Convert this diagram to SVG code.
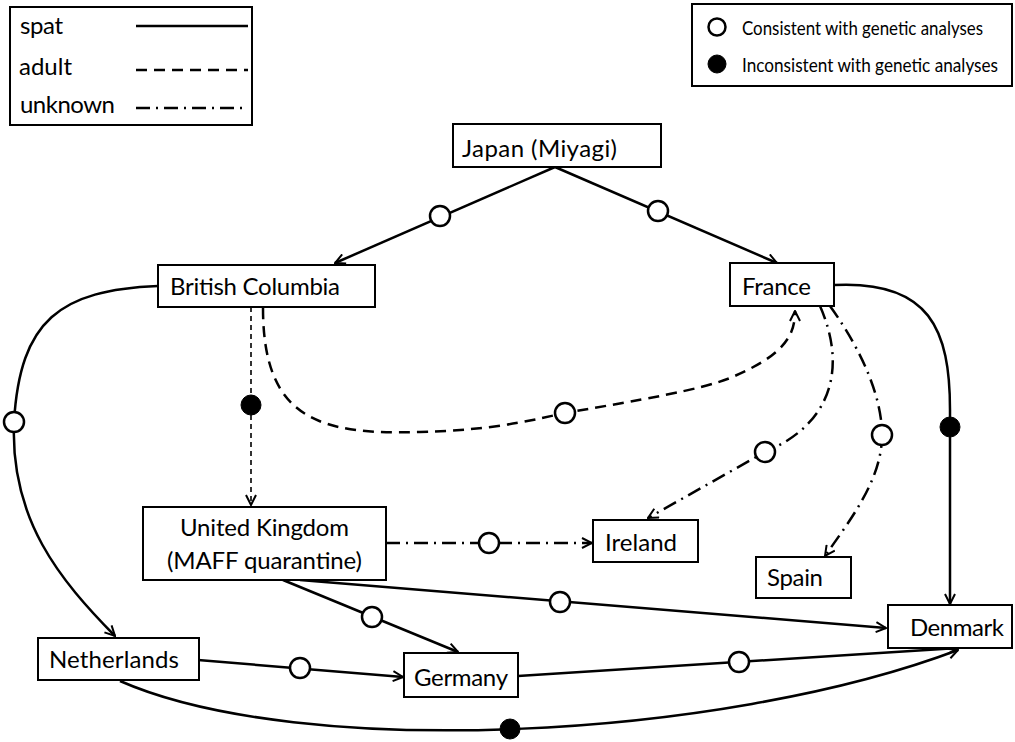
<svg xmlns="http://www.w3.org/2000/svg" width="1015" height="742" viewBox="0 0 1015 742">
  <style>
    text { font-family: Lato, "Open Sans", "Liberation Sans", sans-serif; font-size: 24px; fill: #000; }
    .small { font-size: 20px; }
    .box { fill: #fff; stroke: #000; stroke-width: 2; }
    .edge { fill: none; stroke: #000; stroke-width: 2.5; }
    .adult { stroke-dasharray: 11 7; }
    .unknown { stroke-dasharray: 14 6 2 6; }
    .dotted { stroke-width: 1.6; stroke-dasharray: 5 4; }
    .ok { fill: #fff; stroke: #000; stroke-width: 2.5; }
    .bad { fill: #000; stroke: #000; stroke-width: 1; }
  </style>
  <defs>
    <marker id="arrow" viewBox="0 0 12 12" refX="11" refY="6" markerWidth="12" markerHeight="12" markerUnits="userSpaceOnUse" orient="auto">
      <path d="M1,1 L11,6 L1,11" fill="none" stroke="#000" stroke-width="2"/>
    </marker>
  </defs>
  <rect width="1015" height="742" fill="#fff"/>

  <!-- legend: transport type -->
  <g id="legend-type">
    <rect class="box" x="10" y="7" width="242" height="118"/>
    <text x="20" y="34" textLength="43">spat</text>
    <text x="19" y="75" textLength="53">adult</text>
    <text x="20" y="113" textLength="95">unknown</text>
    <line class="edge" x1="136" y1="26" x2="248" y2="26"/>
    <line class="edge adult" x1="136" y1="70" x2="248" y2="70"/>
    <line class="edge unknown" x1="136" y1="108" x2="248" y2="108"/>
  </g>

  <!-- legend: genetic consistency -->
  <g id="legend-genetic">
    <rect class="box" x="692" y="4" width="320" height="82"/>
    <circle class="ok" cx="717" cy="27" r="8.5"/>
    <text class="small" x="742" y="35" textLength="241" lengthAdjust="spacingAndGlyphs">Consistent with genetic analyses</text>
    <circle class="bad" cx="717" cy="64" r="9"/>
    <text class="small" x="742" y="72" textLength="256" lengthAdjust="spacingAndGlyphs">Inconsistent with genetic analyses</text>
  </g>

  <!-- connectors -->
  <g id="connectors">
    <path class="edge" d="M555,167 L335,263" marker-end="url(#arrow)"/>
    <path class="edge" d="M555,167 L777,263" marker-end="url(#arrow)"/>
    <path class="edge" d="M158,286 C60,290 20,320 14,422 C10,520 60,580 115,636" marker-end="url(#arrow)"/>
    <path class="edge dotted" d="M251,307 L251,505" marker-end="url(#arrow)"/>
    <path class="edge adult" d="M263,308 C263,420 320,435 420,432 C500,430 540,418 565,413 C640,400 700,390 730,378 C785,355 795,335 795,311" marker-end="url(#arrow)"/>
    <path class="edge unknown" d="M820,306 C848,370 830,425 765,452 L648,518" marker-end="url(#arrow)"/>
    <path class="edge unknown" d="M830,306 C865,355 882,400 882,435 C882,480 850,520 825,556" marker-end="url(#arrow)"/>
    <path class="edge" d="M834,285 C930,280 950,330 950,410 L950,604" marker-end="url(#arrow)"/>
    <path class="edge unknown" d="M386,543 L592,543" marker-end="url(#arrow)"/>
    <path class="edge" d="M283,580 L458,652" marker-end="url(#arrow)"/>
    <path class="edge" d="M300,580 L886,628" marker-end="url(#arrow)"/>
    <path class="edge" d="M198,660 L403,677" marker-end="url(#arrow)"/>
    <path class="edge" d="M518,676 L958,648" marker-end="url(#arrow)"/>
    <path class="edge" d="M120,681 C300,760 720,740 958,650" marker-end="url(#arrow)"/>

    <circle class="ok" cx="440" cy="216" r="10"/>
    <circle class="ok" cx="658" cy="211" r="10"/>
    <circle class="ok" cx="14" cy="422" r="10"/>
    <circle class="bad" cx="251" cy="405" r="10"/>
    <circle class="ok" cx="565" cy="413" r="10"/>
    <circle class="ok" cx="765" cy="452" r="10"/>
    <circle class="ok" cx="882" cy="435" r="10"/>
    <circle class="bad" cx="950" cy="427" r="10"/>
    <circle class="ok" cx="489" cy="543" r="10"/>
    <circle class="ok" cx="372" cy="617" r="10"/>
    <circle class="ok" cx="560" cy="602" r="10"/>
    <circle class="ok" cx="300" cy="668" r="10"/>
    <circle class="ok" cx="739" cy="662" r="10"/>
    <circle class="bad" cx="510" cy="729" r="10"/>
  </g>

  <!-- nodes -->
  <g id="japan">
    <rect class="box" x="453" y="124" width="208" height="43"/>
    <text x="462" y="157" textLength="155">Japan (Miyagi)</text>
  </g>
  <g id="british-columbia">
    <rect class="box" x="158" y="265" width="217" height="42"/>
    <text x="170" y="295" textLength="170">British Columbia</text>
  </g>
  <g id="france">
    <rect class="box" x="730" y="263" width="104" height="43"/>
    <text x="742" y="295" textLength="69">France</text>
  </g>
  <g id="united-kingdom">
    <rect class="box" x="143" y="507" width="243" height="73"/>
    <text x="180" y="536" textLength="169">United Kingdom</text>
    <text x="167" y="569" textLength="195">(MAFF quarantine)</text>
  </g>
  <g id="ireland">
    <rect class="box" x="593" y="520" width="105" height="42"/>
    <text x="605" y="551" textLength="72">Ireland</text>
  </g>
  <g id="spain">
    <rect class="box" x="756" y="557" width="95" height="41"/>
    <text x="767" y="586" textLength="56">Spain</text>
  </g>
  <g id="denmark">
    <rect class="box" x="888" y="605" width="124" height="43"/>
    <text x="910" y="636" textLength="94">Denmark</text>
  </g>
  <g id="netherlands">
    <rect class="box" x="38" y="638" width="161" height="42"/>
    <text x="49" y="668" textLength="130">Netherlands</text>
  </g>
  <g id="germany">
    <rect class="box" x="404" y="653" width="114" height="44"/>
    <text x="414" y="686" textLength="94">Germany</text>
  </g>
</svg>
